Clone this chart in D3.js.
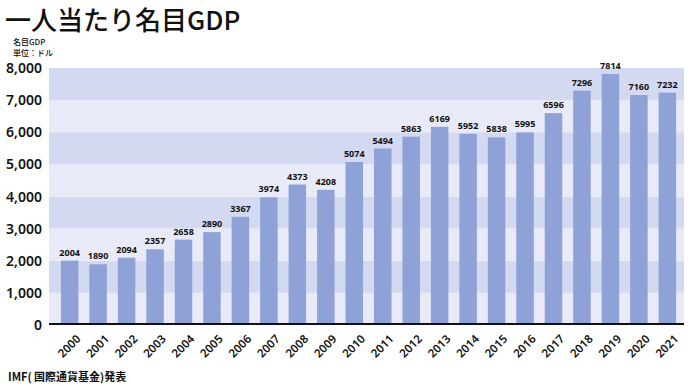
<!DOCTYPE html>
<html>
<head>
<meta charset="utf-8">
<script src="https://cdn.jsdelivr.net/npm/d3@7"></script>
<style>
  body { margin: 0; background: #fff; }
  svg { display: block; font-family: "Noto Sans CJK JP", "Noto Sans", sans-serif; }
</style>
</head>
<body>
<div id="chart"></div>
<script>
// data
const years = ['2000', '2001', '2002', '2003', '2004', '2005', '2006', '2007', '2008', '2009', '2010',
  '2011', '2012', '2013', '2014', '2015', '2016', '2017', '2018', '2019', '2020', '2021'];
const gdp = [2004, 1890, 2094, 2357, 2658, 2890, 3367, 3974, 4373, 4208, 5074,
  5494, 5863, 6169, 5952, 5838, 5995, 6596, 7296, 7814, 7160, 7232];
const yTicks = [0, 1000, 2000, 3000, 4000, 5000, 6000, 7000, 8000];

const width = 700, height = 386;
const plotLeft = 49, plotRight = 684;

const svg = d3.select('#chart').append('svg')
  .attr('width', width)
  .attr('height', height);

const x = d3.scaleBand()
  .domain(years)
  .range([55.5, 681.5])
  .paddingInner(0.385)
  .paddingOuter(0.19);

const y = d3.scaleLinear()
  .domain([0, 8000])
  .range([325, 68]);

// alternating background bands
const bands = d3.range(0, 8).map(i => i * 1000);
svg.append('g')
  .selectAll('rect')
  .data(bands)
  .enter()
  .append('rect')
  .attr('x', plotLeft)
  .attr('width', plotRight - plotLeft)
  .attr('y', d => y(d + 1000))
  .attr('height', d => y(d) - y(d + 1000))
  .attr('fill', (d, i) => i % 2 ? '#d3d9f0' : '#e8ebf7');

// bars
svg.append('g')
  .selectAll('rect')
  .data(gdp)
  .enter()
  .append('rect')
  .attr('x', (d, i) => x(years[i]))
  .attr('width', x.bandwidth())
  .attr('y', d => y(d))
  .attr('height', d => y(0) - y(d))
  .attr('fill', '#8ea2d7');

// value labels
svg.append('g')
  .selectAll('text')
  .data(gdp)
  .enter()
  .append('text')
  .attr('x', (d, i) => x(years[i]) + x.bandwidth() / 2)
  .attr('y', d => y(d) - 5)
  .attr('text-anchor', 'middle')
  .style('font-family', '"Noto Sans", sans-serif')
  .style('font-size', '9px')
  .style('font-weight', 'bold')
  .style('fill', '#111')
  .text(d => d);

// y axis labels
svg.append('g')
  .selectAll('text')
  .data(yTicks)
  .enter()
  .append('text')
  .attr('x', 42)
  .attr('y', d => y(d))
  .attr('dy', '0.36em')
  .attr('text-anchor', 'end')
  .style('font-family', '"Noto Sans", sans-serif')
  .style('font-size', '14px')
  .style('font-weight', '600')
  .style('fill', '#111')
  .text(d => d3.format(',')(d));

// baseline
svg.append('line')
  .attr('x1', plotLeft)
  .attr('x2', plotRight)
  .attr('y1', y(0) - 1)
  .attr('y2', y(0) - 1)
  .attr('stroke', '#111')
  .attr('stroke-width', 2);

// x labels, rotated
svg.append('g')
  .selectAll('text')
  .data(years)
  .enter()
  .append('text')
  .attr('transform', d => `translate(${x(d) + x.bandwidth() / 2 + 6},${y(0) + 9}) rotate(-45)`)
  .attr('text-anchor', 'end')
  .attr('dy', '0.7em')
  .style('font-family', '"Noto Sans", sans-serif')
  .style('font-size', '11.5px')
  .style('font-weight', '600')
  .style('fill', '#111')
  .text(d => d);

// titles
svg.append('text')
  .attr('x', 5)
  .attr('y', 30)
  .style('font-size', '26px')
  .style('font-weight', '500')
  .style('fill', '#111')
  .text('一人当たり名目GDP');

svg.append('text')
  .attr('x', 13)
  .attr('y', 44.5)
  .style('font-size', '8px')
  .style('font-weight', '500')
  .style('fill', '#111')
  .text('名目GDP');

svg.append('text')
  .attr('x', 13)
  .attr('y', 56)
  .style('font-size', '8px')
  .style('font-weight', '500')
  .style('fill', '#111')
  .text('単位：ドル');

svg.append('text')
  .attr('x', 8)
  .attr('y', 381)
  .style('font-size', '11px')
  .style('font-weight', 'bold')
  .style('fill', '#111')
  .text('IMF( 国際通貨基金)発表');
</script>
</body>
</html>
